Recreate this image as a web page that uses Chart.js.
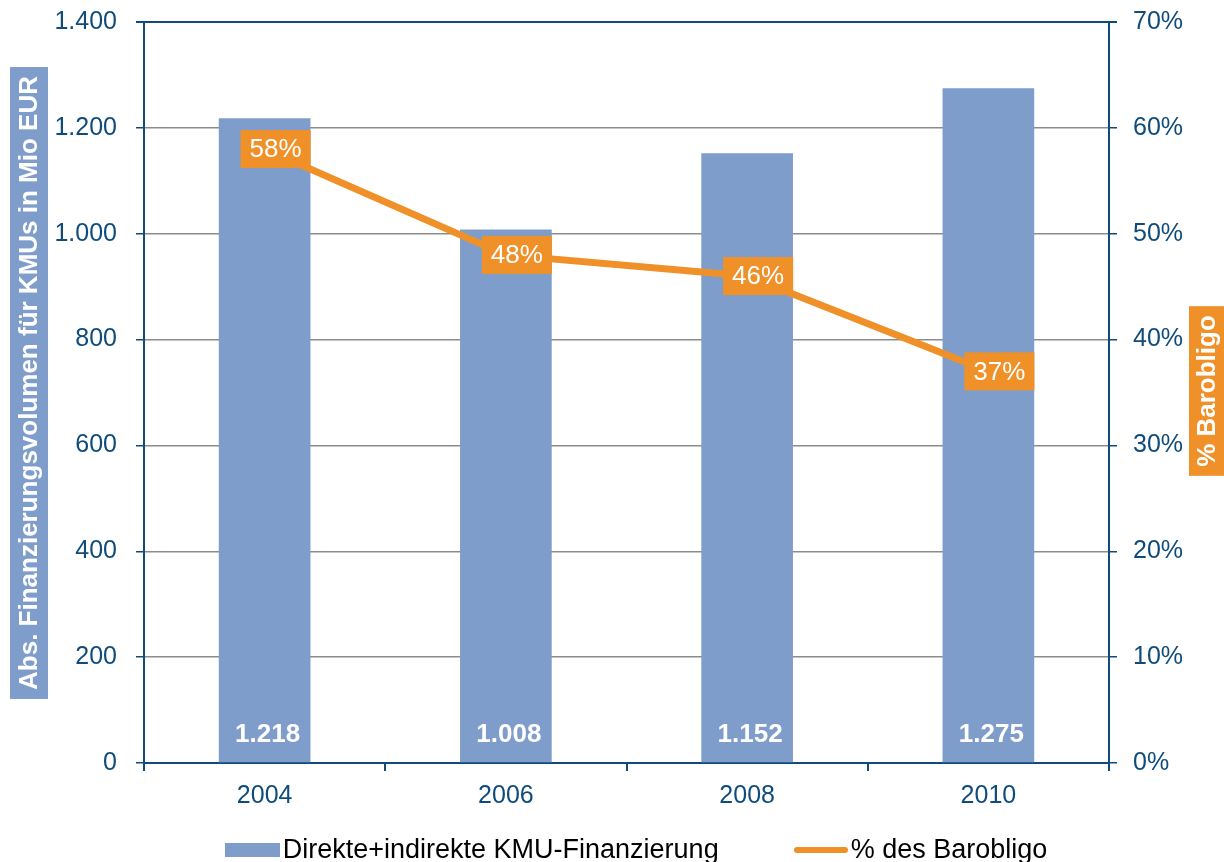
<!DOCTYPE html>
<html>
<head>
<meta charset="utf-8">
<script src="https://cdn.jsdelivr.net/npm/chart.js@4/dist/chart.umd.min.js"></script>
<style>
  body { margin: 0; background: #fff; }
  #wrap { position: relative; width: 1224px; height: 862px; }
  #legend { position: absolute; left: 0; top: 834px; width: 1224px; display: flex; justify-content: center;
            font-family: "Liberation Sans", Arial, sans-serif; font-size: 27px; color: #000; padding-left: 48px; box-sizing: border-box; }
  .item { display: flex; align-items: center; }
  .sw-bar { width: 55px; height: 14px; background: #7f9dcb; margin-right: 3px; }
  .sw-line { width: 54px; height: 6px; border-radius: 3px; background: #ef9128; margin-right: 3px; }
</style>
</head>
<body>
<div id="wrap">
  <canvas id="grafico"></canvas>
  <div id="legend">
    <div class="item" style="margin-right:75px"><span class="sw-bar"></span><span id="lg0"></span></div>
    <div class="item"><span class="sw-line"></span><span id="lg1"></span></div>
  </div>
</div>
<script>
var jahre = ['2004', '2006', '2008', '2010'];
var volumen = [1218, 1008, 1152, 1275];      // Mio EUR
var barobligo = [58, 48, 46, 37];            // %
var serieBar = 'Direkte+indirekte KMU-Finanzierung';
var serieLinie = '% des Barobligo';
var titelLinks = 'Abs. Finanzierungsvolumen für KMUs in Mio EUR';
var titelRechts = '% Barobligo';

var blau = '#7f9dcb';
var orange = '#ef9128';
var achse = '#0f4c7c';
var gitter = '#8c8c8c';
var schrift = '"Liberation Sans", Arial, sans-serif';

document.getElementById('lg0').textContent = serieBar;
document.getElementById('lg1').textContent = serieLinie;

function punkt(n) { // 1400 -> 1.400
  return String(n).replace(/\B(?=(\d{3})+(?!\d))/g, '.');
}

var beschriftung = {
  id: 'beschriftung',
  afterDatasetsDraw: function(chart) {
    var ctx = chart.ctx;
    var area = chart.chartArea;
    ctx.save();
    // Werte unten in den Balken
    var mb = chart.getDatasetMeta(0);
    ctx.font = 'bold 26px ' + schrift;
    ctx.fillStyle = '#fff';
    ctx.textAlign = 'center';
    ctx.textBaseline = 'middle';
    mb.data.forEach(function(b, i) {
      ctx.fillText(punkt(volumen[i]), b.x + 3, area.bottom - 28);
    });
    // Prozent-Boxen auf der Linie
    var ml = chart.getDatasetMeta(1);
    ctx.font = '26px ' + schrift;
    ml.data.forEach(function(p, i) {
      var t = barobligo[i] + '%';
      var w = ctx.measureText(t).width + 18;
      var cx = p.x + 11;
      ctx.fillStyle = orange;
      ctx.fillRect(cx - w / 2, p.y - 19, w, 38);
      ctx.fillStyle = '#fff';
      ctx.fillText(t, cx, p.y + 1);
    });
    ctx.restore();
  },
  afterDraw: function(chart) {
    var ctx = chart.ctx;
    ctx.save();
    ctx.font = 'bold 26px ' + schrift;
    ctx.textAlign = 'center';
    ctx.textBaseline = 'middle';
    function box(text, cx, cy, bg, w) {
      var tw = ctx.measureText(text).width + 18;
      ctx.save();
      ctx.translate(cx, cy);
      ctx.rotate(-Math.PI / 2);
      ctx.fillStyle = bg;
      ctx.fillRect(-tw / 2, -w / 2, tw, w);
      ctx.fillStyle = '#fff';
      ctx.fillText(text, 0, 1);
      ctx.restore();
    }
    box(titelLinks, 29, 383, blau, 38);
    box(titelRechts, 1207, 391, orange, 36);
    ctx.restore();
  }
};

function festeBreite(w) {
  return function(s) {
    s.width = w;
    s.paddingTop = 12;
    s.paddingBottom = 12;
  };
}

var ctx = document.getElementById('grafico').getContext('2d');
var grafico = new Chart(ctx, {
  data: {
    labels: jahre,
    datasets: [{
      type: 'bar',
      label: serieBar,
      data: volumen,
      backgroundColor: blau,
      yAxisID: 'y',
      barPercentage: 0.38,
      categoryPercentage: 1,
      order: 2
    }, {
      type: 'line',
      label: serieLinie,
      data: barobligo,
      borderColor: orange,
      backgroundColor: orange,
      borderWidth: 7,
      pointRadius: 0,
      tension: 0,
      yAxisID: 'y1',
      order: 1
    }]
  },
  options: {
    responsive: true,
    maintainAspectRatio: false,
    animation: false,
    layout: { padding: { top: 22, bottom: 54, left: 0, right: 0 } },
    plugins: {
      legend: { display: false },
      tooltip: { enabled: false }
    },
    scales: {
      x: {
        afterFit: function(s) { s.height = 45; },
        grid: { offset: true, drawOnChartArea: false, tickLength: 8, tickColor: achse, lineWidth: 2 },
        border: { color: achse, width: 2 },
        ticks: { color: achse, font: { family: schrift, size: 25 }, padding: 10 }
      },
      y: {
        position: 'left',
        min: 0, max: 1400,
        afterFit: festeBreite(144),
        grid: {
          color: function(c) { return c.tick.value == 1400 ? achse : gitter; },
          lineWidth: function(c) { return c.tick.value == 1400 ? 2 : 1.5; },
          tickLength: 8, tickColor: achse
        },
        border: { color: achse, width: 2 },
        ticks: {
          stepSize: 200, color: achse, padding: 19,
          font: { family: schrift, size: 25 },
          callback: function(v) { return punkt(v); }
        }
      },
      y1: {
        position: 'right',
        min: 0, max: 70,
        afterFit: festeBreite(115),
        grid: {
          drawOnChartArea: false, tickLength: 8, tickColor: achse,
          lineWidth: function(c) { return c.tick.value == 70 ? 2 : 1.5; }
        },
        border: { color: achse, width: 2 },
        ticks: {
          stepSize: 10, color: achse, padding: 16,
          font: { family: schrift, size: 25 },
          callback: function(v) { return v + '%'; }
        }
      }
    }
  },
  plugins: [beschriftung]
});
</script>
</body>
</html>
